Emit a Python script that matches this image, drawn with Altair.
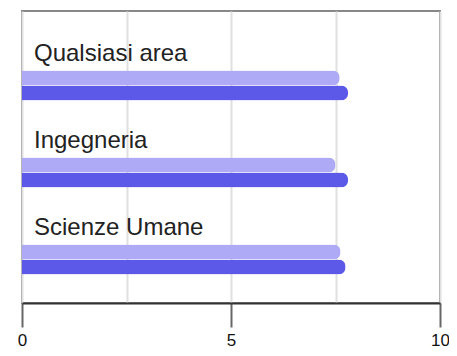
import altair as alt
import pandas as pd

categories = ["Qualsiasi area", "Ingegneria", "Scienze Umane"]
series = ["Serie 1", "Serie 2"]
values_light = [7.60, 7.50, 7.62]
values_dark = [7.80, 7.80, 7.74]
series_colors = ["#aeaaf5", "#5c59e8"]
grid_values = [0, 2.5, 5, 7.5, 10]
tick_labels = [0, 5, 10]

rows = []
for c, a, b in zip(categories, values_light, values_dark):
    rows.append({"categoria": c, "serie": series[0], "valore": a})
    rows.append({"categoria": c, "serie": series[1], "valore": b})
df = pd.DataFrame(rows)
labels_df = pd.DataFrame({"categoria": categories})

tick_list = ",".join(str(v) for v in tick_labels)
y_enc = alt.Y("categoria:N", sort=categories, axis=None,
              scale=alt.Scale(paddingInner=0, paddingOuter=0.178, align=1))

x_axis = alt.Axis(
    values=grid_values, title=None,
    grid=True, gridColor="#e0e0e0", gridWidth=2,
    tickSize=24, tickColor="#666666", tickWidth=2,
    tickOpacity={"condition": {"test": f"indexof([{tick_list}], datum.value) < 0", "value": 0}, "value": 1},
    labelExpr=f"indexof([{tick_list}], datum.value) >= 0 ? datum.label : ''",
    labelFontSize=17, labelColor="#111111", labelFont="Liberation Sans",
    labelPadding=5, labelFlush=False, labelOverlap=False,
    domainColor="#333333", domainWidth=2,
)

bars = alt.Chart(df).mark_bar(cornerRadiusEnd=7).encode(
    x=alt.X("valore:Q", scale=alt.Scale(domain=[0, 10], nice=False), axis=x_axis),
    y=y_enc,
    yOffset=alt.YOffset("serie:N", sort=series,
                        scale=alt.Scale(paddingInner=0, paddingOuter=0, range=[28.5, 58.5])),
    color=alt.Color("serie:N", sort=series,
                    scale=alt.Scale(domain=series, range=series_colors), legend=None),
)

texts = alt.Chart(labels_df).mark_text(
    align="left", baseline="alphabetic", dx=12, dy=-24,
    font="Liberation Sans", fontSize=24, color="#222222",
).encode(
    x=alt.datum(0),
    y=y_enc,
    text="categoria:N",
)

chart = alt.layer(bars, texts).properties(
    width=418, height=292,
    autosize=alt.AutoSizeParams(type="none"),
    padding={"left": 14, "top": 3, "right": 9, "bottom": 45},
).configure_view(stroke="#888888", strokeWidth=2)

chart.save("out.html", embed_options={"renderer": "svg", "actions": False})
